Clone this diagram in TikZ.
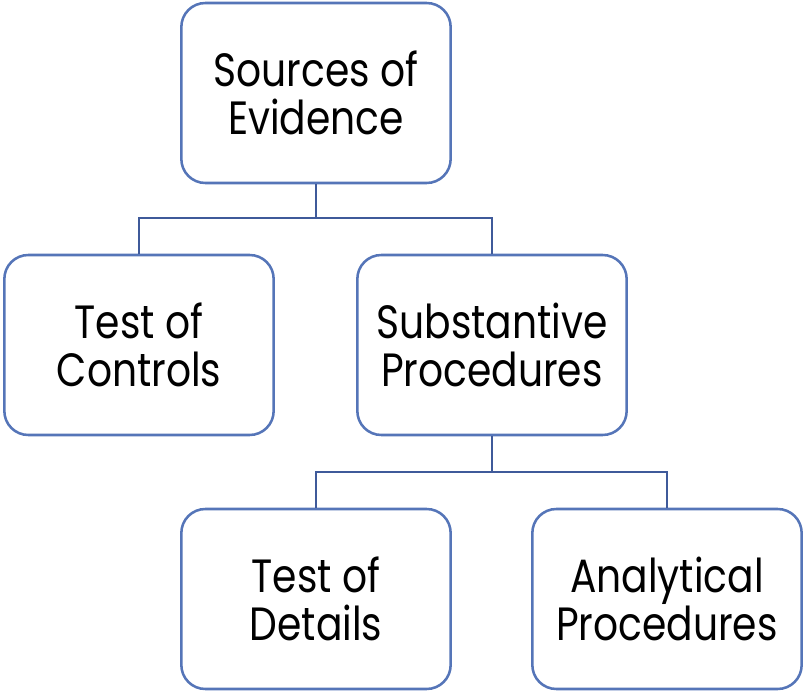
\documentclass[tikz,border=0pt]{standalone}
\usepackage{fontspec}
\setmainfont[FakeStretch=0.84]{Poppins}
\definecolor{boxblue}{HTML}{5575B8}
\definecolor{linkblue}{HTML}{3F5A9A}
\begin{document}
\begin{tikzpicture}[x=0.75pt,y=-0.75pt,
  box/.style={draw=boxblue, line width=1.9pt, rounded corners=18pt, fill=white,
    minimum width=202pt, minimum height=135pt, align=center,
    font=\fontsize{35}{36}\selectfont, inner sep=0pt},
  link/.style={draw=linkblue, line width=2pt}]
\useasboundingbox (0,0) rectangle (803,691);
\node[box] (src) at (316,93) {Sources of\\Evidence};
\node[box] (toc) at (139,345) {Test of\\Controls};
\node[box] (sub) at (492,345) {Substantive\\Procedures};
\node[box] (tod) at (316,599) {Test of\\Details};
\node[box] (ana) at (667,599) {Analytical\\Procedures};
\coordinate (j1) at (316,218);
\coordinate (j2) at (492,472);
\draw[link] (src.south) -- (j1);
\draw[link] (toc.north) |- (j1) -| (sub.north);
\draw[link] (sub.south) -- (j2);
\draw[link] (tod.north) |- (j2) -| (ana.north);
\end{tikzpicture}
\end{document}
